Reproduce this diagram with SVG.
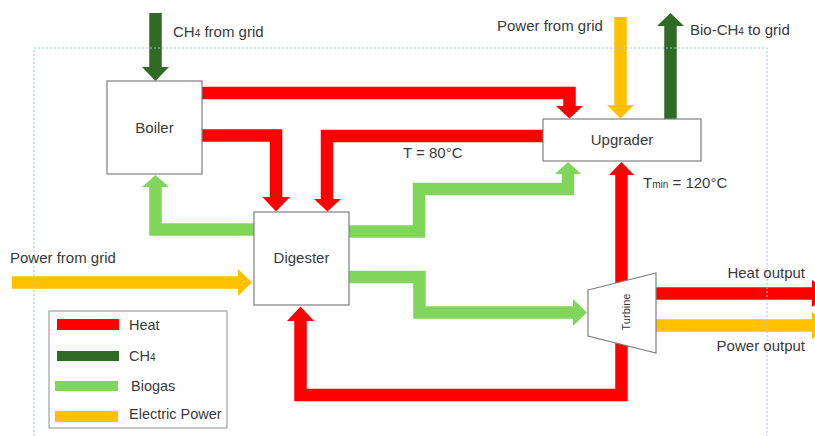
<svg xmlns="http://www.w3.org/2000/svg" width="815" height="436" viewBox="0 0 815 436">
<style>
text{font-family:"Liberation Sans",Arial,sans-serif;font-size:15px;fill:#3a3a3a}
.node{fill:#fff;stroke:#7f7f7f;stroke-width:1.2}
.f{fill:none;stroke-linejoin:miter;stroke-linecap:butt;stroke-width:12.5}
.red{stroke:#ff0000}.hr{fill:#ff0000}
.dg{stroke:#2f6b25}.hdg{fill:#2f6b25}
.lg{stroke:#80d65a}.hlg{fill:#80d65a}
.or{stroke:#ffc000}.hor{fill:#ffc000}
.sub{font-size:10px}
.lt{font-size:14.5px}
</style>
<rect width="815" height="436" fill="#fff"/>
<g id="connectors">
<path class="f red" d="M202,93 H569.5 V106"/><polygon class="hr" points="556,106 583,106 569.5,118.5"/>
<path class="f red" d="M202,135.5 H276 V197"/><polygon class="hr" points="262.5,197 290,197 276,211.5"/>
<path class="f red" d="M543,136 H327 V199"/><polygon class="hr" points="314,199 341,199 327.5,211.5"/>
<path class="f red" d="M621.5,175 V395 H300.5 V321"/><polygon class="hr" points="609,175 634,175 621.5,162"/><polygon class="hr" points="287,321 314,321 300.5,306.5"/>
<path class="f red" d="M656,293.5 H812"/><polygon class="hr" points="812,280 812,307 832,293.5"/>
<path class="f dg" d="M155.5,13 V67"/><polygon class="hdg" points="142,67 169,67 155.5,81"/>
<path class="f dg" d="M670.5,119 V26"/><polygon class="hdg" points="657,26 684,26 670.5,13"/>
<path class="f or" d="M620.5,17 V105"/><polygon class="hor" points="607,105 634,105 620.5,118.5"/>
<path class="f or" d="M12,282.5 H238"/><polygon class="hor" points="238,269 238,296 252,282.5"/>
<path class="f or" d="M656,325.5 H812"/><polygon class="hor" points="812,312 812,339 832,325.5"/>
<path class="f lg" d="M254,229.5 H155.5 V187"/><polygon class="hlg" points="142,187 169,187 155.5,175"/>
<path class="f lg" d="M349,231.5 H419 V189 H568 V174"/><polygon class="hlg" points="555,174 581,174 568,162"/>
<path class="f lg" d="M349,277 H419.5 V312.5 H573"/><polygon class="hlg" points="573,299 573,326 587,312.5"/>
</g>
<rect x="34" y="48" width="733" height="395" fill="none" stroke="#9dc3e6" stroke-width="1" stroke-dasharray="2,2"/>
<g id="boiler"><rect class="node" x="107" y="81" width="95" height="93"/><text x="154.5" y="133" text-anchor="middle">Boiler</text></g>
<g id="digester"><rect class="node" x="254" y="212" width="95" height="93"/><text x="301.5" y="263" text-anchor="middle">Digester</text></g>
<g id="upgrader"><rect class="node" x="543" y="119" width="158" height="42"/><text x="622" y="145" text-anchor="middle">Upgrader</text></g>
<g id="turbine"><polygon class="node" points="588,290 656,273 656,353 588,336"/><text x="0" y="0" transform="translate(630,312) rotate(-90)" text-anchor="middle" style="font-size:11px">Turbine</text></g>
<g id="labels">
<text x="173" y="37">CH<tspan class="sub">4</tspan> from grid</text>
<text x="497" y="31">Power from grid</text>
<text x="690" y="35">Bio-CH<tspan class="sub">4</tspan> to grid</text>
<text x="403" y="158">T = 80°C</text>
<text x="643" y="188">T<tspan class="sub">min</tspan> = 120°C</text>
<text x="10" y="263">Power from grid</text>
<text x="805" y="278" text-anchor="end">Heat output</text>
<text x="805" y="351" text-anchor="end">Power output</text>
</g>
<g id="legend">
<rect x="49" y="311" width="178" height="117" fill="#fff" stroke="#8c8c8c" stroke-width="1"/>
<rect x="57" y="319" width="62" height="11" fill="#ff0000"/><text class="lt" x="129" y="330">Heat</text>
<rect x="57" y="351" width="62" height="10" fill="#2f6b25"/><text class="lt" x="129" y="361">CH<tspan class="sub">4</tspan></text>
<rect x="55" y="381" width="63" height="10" fill="#80d65a"/><text class="lt" x="131" y="391">Biogas</text>
<rect x="55" y="411" width="63" height="11" fill="#ffc000"/><text class="lt" x="129" y="419">Electric Power</text>
</g>
</svg>
